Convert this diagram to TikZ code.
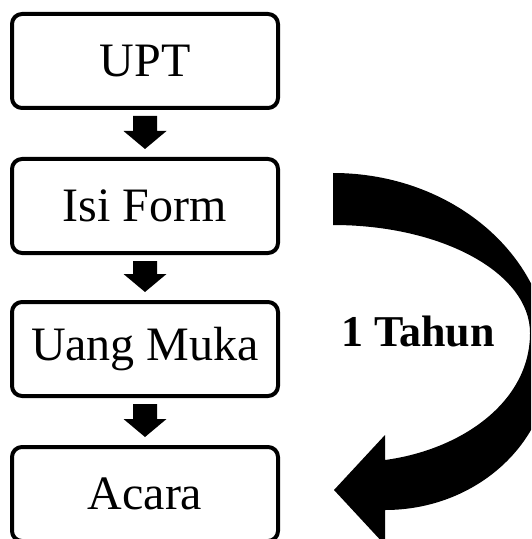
\documentclass[tikz,border=0pt]{standalone}
\usepackage{fontspec}
\setmainfont{Liberation Serif}
\usetikzlibrary{calc}
% block arrow between two boxes
\newcommand{\flowarrow}[2]{%
  \fill let \p1=(#1.south), \p2=(#2.north) in
    (\x1-6pt,\y1-3pt) -- (\x1+6pt,\y1-3pt) -- (\x1+6pt,\y2+13pt) -- (\x1+10.75pt,\y2+13pt)
    -- (\x1,\y2+4pt) -- (\x1-10.75pt,\y2+13pt) -- (\x1-6pt,\y2+13pt) -- cycle;}
\begin{document}
\begin{tikzpicture}[x=0.5pt, y=-0.5pt, line join=round,
    box/.style={draw, line width=2pt, rounded corners=5pt, minimum width=133pt, minimum height=47pt, inner sep=0pt, font=\fontsize{24}{28}\selectfont},
    lbl/.style={font=\fontsize{22}{26}\selectfont\bfseries}]
  \clip (0,0) rectangle (531,539);
  \node[box] (upt) at (145,61) {UPT};
  \node[box] (form) at (145,206) {Isi Form};
  \node[box] (muka) at (145,349) {Uang Muka};
  \node[box] (acara) at (145,494) {Acara};
  \flowarrow{upt}{form}
  \flowarrow{form}{muka}
  \flowarrow{muka}{acara}
  % curved arrow, form -> acara
  \fill (333,173) .. controls (453,173) and (550,257) .. (550,360)
    .. controls (550,443) and (476,510) .. (385,510) -- (385,545) -- (334,490) -- (385,435) -- (385,460)
    .. controls (460,450) and (530,403) .. (530,333) .. controls (530,273) and (442,225) .. (333,225) -- cycle;
  \node[lbl] (tahun) at (418,332) {1 Tahun};
\end{tikzpicture}
\end{document}
